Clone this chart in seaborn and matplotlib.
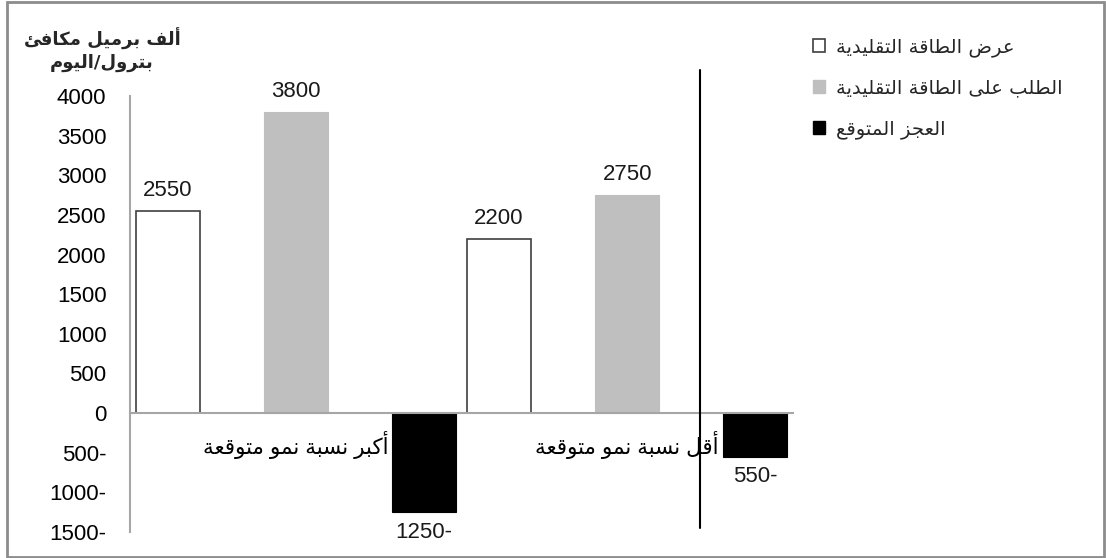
import numpy as np
import pandas as pd
import seaborn as sns
import matplotlib
matplotlib.use("Agg")
import matplotlib.pyplot as plt
from matplotlib.patches import Patch, Rectangle
from matplotlib.lines import Line2D

# ---------------- data ----------------
categories = ["أكبر نسبة نمو متوقعة", "أقل نسبة نمو متوقعة"]
series_names = ["عرض الطاقة التقليدية", "الطلب على الطاقة التقليدية", "العجز المتوقع"]
supply = [2550, 2200]
demand = [3800, 2750]
deficit = [-1250, -550]
y_ticks = [-1500, -1000, -500, 0, 500, 1000, 1500, 2000, 2500, 3000, 3500, 4000]
y_title = ["ألف برميل مكافئ", "بترول/اليوم"]
colors = ["#ffffff", "#bfbfbf", "#000000"]


# ---------------- minimal Arabic shaping (presentation forms + visual order) ----------------
_DUAL = {0x626: 0xFE89, 0x628: 0xFE8F, 0x62A: 0xFE95, 0x62B: 0xFE99, 0x62C: 0xFE9D,
         0x62D: 0xFEA1, 0x62E: 0xFEA5, 0x633: 0xFEB1, 0x634: 0xFEB5, 0x635: 0xFEB9,
         0x636: 0xFEBD, 0x637: 0xFEC1, 0x638: 0xFEC5, 0x639: 0xFEC9, 0x63A: 0xFECD,
         0x641: 0xFED1, 0x642: 0xFED5, 0x643: 0xFED9, 0x644: 0xFEDD, 0x645: 0xFEE1,
         0x646: 0xFEE5, 0x647: 0xFEE9, 0x64A: 0xFEF1}
_RIGHT = {0x622: 0xFE81, 0x623: 0xFE83, 0x624: 0xFE85, 0x625: 0xFE87, 0x627: 0xFE8D,
          0x629: 0xFE93, 0x62F: 0xFEA9, 0x630: 0xFEAB, 0x631: 0xFEAD, 0x632: 0xFEAF,
          0x648: 0xFEED, 0x649: 0xFEEF}
_LAMALEF = {0x622: 0xFEF5, 0x623: 0xFEF7, 0x625: 0xFEF9, 0x627: 0xFEFB}


def ar(text):
    toks = []
    i = 0
    while i < len(text):
        c = ord(text[i])
        if c == 0x644 and i + 1 < len(text) and ord(text[i + 1]) in _LAMALEF:
            toks.append(("LA", ord(text[i + 1])))
            i += 2
            continue
        if c in _DUAL:
            toks.append(("D", c))
        elif c in _RIGHT:
            toks.append(("R", c))
        else:
            toks.append(("N", c))
        i += 1
    out = []
    n = len(toks)
    for k, (t, c) in enumerate(toks):
        joining = t in ("D", "R", "LA")
        prev = k > 0 and toks[k - 1][0] == "D" and joining
        nxt = t == "D" and k + 1 < n and toks[k + 1][0] in ("D", "R", "LA")
        if t == "D":
            idx = 3 if (prev and nxt) else 2 if nxt else 1 if prev else 0
            out.append(chr(_DUAL[c] + idx))
        elif t == "R":
            out.append(chr(_RIGHT[c] + (1 if prev else 0)))
        elif t == "LA":
            out.append(chr(_LAMALEF[c] + (1 if prev else 0)))
        else:
            out.append(chr(c))
    return "".join(reversed(out))


def fmt_num(v):
    return f"{abs(v):.0f}-" if v < 0 else f"{v:.0f}"


# ---------------- figure ----------------
sns.set_style("white")
plt.rcParams["font.family"] = ["Liberation Sans", "DejaVu Sans"]

fig = plt.figure(figsize=(11.06, 5.58), dpi=100)
ax = fig.add_axes([130 / 1106, 1 - 532 / 558, (793 - 130) / 1106, (532 - 96) / 558])

df = pd.DataFrame({
    "cat": categories * 3,
    "series": [series_names[0]] * 2 + [series_names[1]] * 2 + [series_names[2]] * 2,
    "value": supply + demand + deficit,
})

sns.barplot(data=df, x="cat", y="value", hue="series", hue_order=series_names,
            order=categories, palette=colors, saturation=1, width=1.16, gap=0.5,
            legend=False, errorbar=None, ax=ax)

edge_cols = ["#404040", "#bfbfbf", "#000000"]
for cont, ec in zip(ax.containers, edge_cols):
    for p in cont:
        p.set_edgecolor(ec)
        p.set_linewidth(1.2 if ec == "#404040" else 0.8)
    neg = all(p.get_y() < 0 for p in cont)
    ax.bar_label(cont, labels=[fmt_num(p.get_height() if p.get_y() >= 0 else p.get_y())
                               for p in cont],
                 padding=10 if neg else 7, fontsize=16, color="#1a1a1a")

# spines first (repositioning resets tick objects)
for s in ["top", "right"]:
    ax.spines[s].set_visible(False)
ax.spines["bottom"].set_position(("data", 0))
ax.spines["bottom"].set_color("#a6a6a6")
ax.spines["left"].set_color("#a6a6a6")
ax.spines["bottom"].set_linewidth(1.5)
ax.spines["left"].set_linewidth(1.5)
ax.grid(False)

ax.set_ylim(-1500, 4000)
ax.set_xlim(-0.5, 1.5)
ax.set_yticks(y_ticks)
ax.set_yticklabels([fmt_num(v) for v in y_ticks])
ax.set_xticks([0, 1])
ax.set_xticklabels([ar(c) for c in categories])
ax.tick_params(axis="y", length=0, pad=17, labelsize=16, labelcolor="black")
ax.tick_params(axis="x", length=0, pad=13, labelsize=15.5, labelcolor="black")
ax.set_xlabel("")
ax.set_ylabel("")

# y-axis title
fig.text(102 / 1106, 1 - 50 / 558, "\n".join(ar(t) for t in y_title), ha="center",
         va="center", fontsize=13, fontweight="bold", family=["DejaVu Sans"],
         linespacing=1.3)

# legend
handles = [Patch(facecolor=colors[0], edgecolor="#404040", linewidth=1.2),
           Patch(facecolor=colors[1], edgecolor=colors[1]),
           Patch(facecolor=colors[2], edgecolor=colors[2])]
fig.legend(handles, [ar(s) for s in series_names], loc="upper left",
           bbox_to_anchor=(795 / 1106, 1 - 20 / 558), frameon=False,
           prop={"family": "DejaVu Sans", "size": 14}, handlelength=0.65,
           handleheight=0.65, handletextpad=0.55, labelspacing=1.1)

# vertical divider line and outer border
fig.add_artist(Line2D([700 / 1106, 700 / 1106], [1 - 528 / 558, 1 - 70 / 558],
                      color="black", lw=1.5, transform=fig.transFigure))
fig.add_artist(Rectangle((7 / 1106, 1.5 / 558), (1104 - 7) / 1106, (556 - 1.5) / 558,
                         fill=False, edgecolor="#8c8c8c", lw=2, transform=fig.transFigure))

fig.savefig("out.png", dpi=100, facecolor="white")
